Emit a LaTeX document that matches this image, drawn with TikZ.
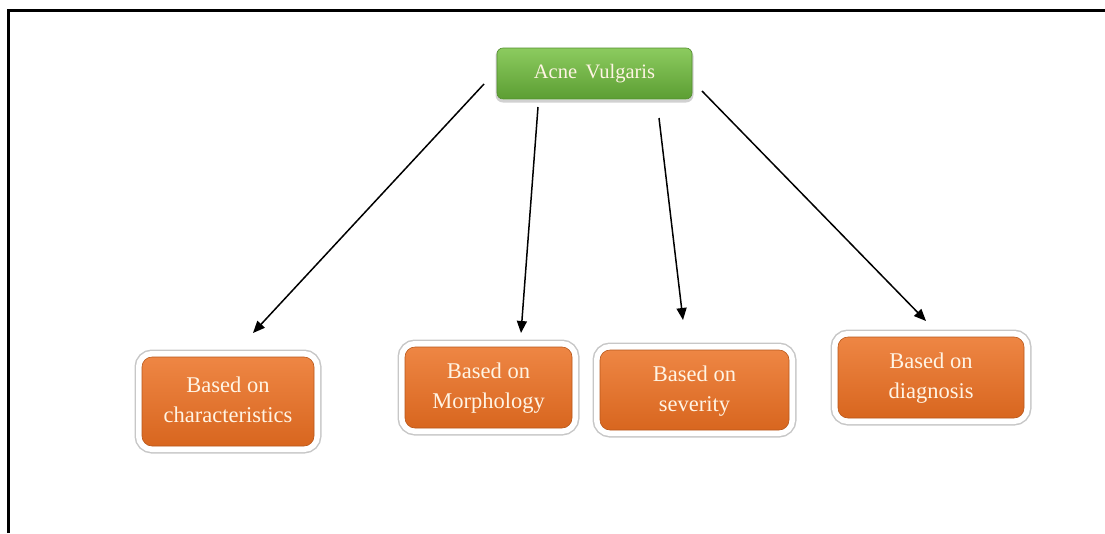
\documentclass[tikz,border=0pt]{standalone}
\usepackage{fontspec}
\setmainfont{Liberation Serif}
\usetikzlibrary{arrows.meta}
\definecolor{gtop}{HTML}{8CCB5F}
\definecolor{gbot}{HTML}{5C9E33}
\definecolor{otop}{HTML}{EE8644}
\definecolor{obot}{HTML}{D8661F}
\definecolor{txt}{HTML}{FFF4E4}
\newcommand{\twolines}[3]{\raisebox{#3}{\begin{tabular}{@{}c@{}}#1\\#2\end{tabular}}}
\tikzset{
  greenbox/.style={rounded corners=6, top color=gtop, bottom color=gbot, draw=gbot!90!black, line width=0.6,
    text=txt, font=\fontsize{20.5}{30}\selectfont, inner sep=0, align=center,
    preaction={draw=black!18, line width=3, transform canvas={yshift=-2}}},
  orangebox/.style={rounded corners=10, top color=otop, bottom color=obot, draw=obot!85!black, line width=0.6,
    text=txt, font=\fontsize{22.5}{30}\selectfont, inner sep=0,
    preaction={draw=black!22, line width=15},
    preaction={draw=white, line width=12}},
  arr/.style={line width=1.5, -{Triangle[length=12,width=10]}},
  frameline/.style={line width=3, black}
}
\begin{document}
\begin{tikzpicture}[x=1pt,y=-1pt]
\useasboundingbox (0,0) rectangle (1105,533);
\draw[frameline] (8,533) -- (8,10) -- (1105,10);
\node[greenbox, minimum width=195, minimum height=51] (top) at (594.5,73.5) {Acne\, Vulgaris};
\node[orangebox, minimum width=172, minimum height=89] (b1) at (228,401.5) {\twolines{Based on}{characteristics}{5pt}};
\node[orangebox, minimum width=167, minimum height=81] (b2) at (488.5,387.5) {\twolines{Based on}{Morphology}{4pt}};
\node[orangebox, minimum width=189, minimum height=80] (b3) at (694.5,390) {\twolines{Based on}{severity}{2pt}};
\node[orangebox, minimum width=186, minimum height=81] (b4) at (931,377.5) {\twolines{Based on}{diagnosis}{4pt}};
\coordinate (s1) at (484,84);
\coordinate (e1) at (253,333);
\coordinate (s2) at (538,107);
\coordinate (e2) at (521,333);
\coordinate (s3) at (659,118);
\coordinate (e3) at (683,320);
\coordinate (s4) at (702,91);
\coordinate (e4) at (926,321);
\draw[arr] (s1) -- (e1);
\draw[arr] (s2) -- (e2);
\draw[arr] (s3) -- (e3);
\draw[arr] (s4) -- (e4);
\end{tikzpicture}
\end{document}
